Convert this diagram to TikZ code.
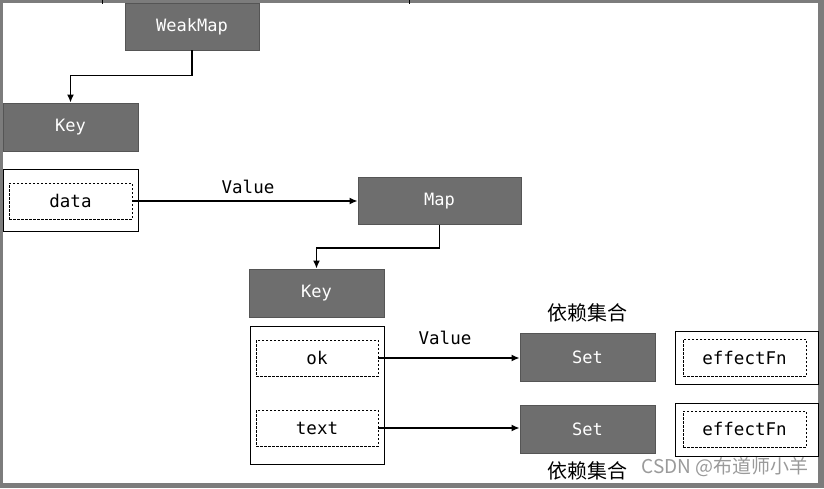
\documentclass[tikz,border=0pt]{standalone}
\usepackage{fontspec}
\setmainfont{Fira Sans}
\newfontfamily\monof{DejaVu Sans Mono}
\newfontfamily\cjk{Noto Sans CJK SC}
\usetikzlibrary{arrows.meta}
\definecolor{boxgray}{HTML}{6E6E6E}
\definecolor{edgegray}{HTML}{555555}
\definecolor{framegray}{HTML}{7C7C7C}
\definecolor{wmgray}{HTML}{9A9A9A}
\tikzset{
  darkbox/.style={draw=edgegray, fill=boxgray, text=white, line width=0.8pt,
    inner sep=0pt, font=\monof\fontsize{17}{19}\selectfont},
  outerbox/.style={draw=black, fill=white, line width=0.9pt, inner sep=0pt},
  dashbox/.style={draw=black, dashed, dash pattern=on 2.5pt off 1.5pt, line width=0.8pt,
    inner sep=0pt, font=\monof\fontsize{17.5}{19}\selectfont},
  conn/.style={draw=black, line width=1.6pt, -{Latex[length=8pt,width=7pt]}},
  vlabel/.style={font=\monof\fontsize{17.5}{19}\selectfont, inner sep=0pt},
  cjklabel/.style={font=\cjk\fontsize{20}{22}\selectfont, inner sep=0pt},
}
\begin{document}
\begin{tikzpicture}[x=1pt,y=-1pt]
% frame
\fill[framegray] (0,0) rectangle (824,488);
\fill[white] (3,3) rectangle (818,483);
\useasboundingbox (0,0) rectangle (824,488);
\coordinate (t1a) at (102,0); \coordinate (t1b) at (102,4);
\coordinate (t2a) at (409,0); \coordinate (t2b) at (409,4);
\draw[line width=0.8pt] (t1a) -- (t1b);
\draw[line width=0.8pt] (t2a) -- (t2b);

% top level
\node[darkbox, minimum width=134pt, minimum height=47pt] (wm) at (192,26.5) {WeakMap};
\node[darkbox, minimum width=135pt, minimum height=48pt] (k1) at (70.5,127) {Key};
\node[outerbox, minimum width=135pt, minimum height=62pt] (dout) at (70.5,200) {};
\node[dashbox, minimum width=123pt, minimum height=36pt] (din) at (70.5,201) {data};
\node[darkbox, minimum width=163pt, minimum height=47pt] (map) at (439.5,201) {Map};

% second level
\node[darkbox, minimum width=135pt, minimum height=48pt] (k2) at (316.5,293) {Key};
\node[outerbox, minimum width=134pt, minimum height=138pt] (kout) at (317,395) {};
\node[dashbox, minimum width=122pt, minimum height=36pt] (ok) at (317,358) {ok};
\node[dashbox, minimum width=122pt, minimum height=36pt] (tx) at (317,428) {text};

\node[darkbox, minimum width=135pt, minimum height=48pt] (s1) at (587.5,357) {Set};
\node[darkbox, minimum width=135pt, minimum height=48pt] (s2) at (587.5,429) {Set};

\node[outerbox, minimum width=143pt, minimum height=53pt] (e1out) at (746.5,357.5) {};
\node[dashbox, minimum width=123pt, minimum height=37pt] (e1) at (744.5,357.5) {effectFn};
\node[outerbox, minimum width=143pt, minimum height=53pt] (e2out) at (746.5,429.5) {};
\node[dashbox, minimum width=123pt, minimum height=36pt] (e2) at (744.5,429) {effectFn};

% labels
\node[vlabel] (v1) at (248,187) {Value};
\node[vlabel] (v2) at (445,338) {Value};
\node[cjklabel] (c1) at (587,313) {依赖集合};
\node[cjklabel] (c2) at (587,471) {依赖集合};
\node[font=\cjk\fontsize{19}{21}\selectfont, text=wmgray, inner sep=0pt, anchor=east] (wmk) at (809,467) {CSDN @布道师小羊};

% connectors
\draw[conn] (wm.south) -- ++(0,25) -| (k1.north);
\draw[conn] (din.east) -- (din.east -| map.west);
\draw[conn] (map.south) -- ++(0,23) -| (k2.north);
\draw[conn] (ok.east) -- (ok.east -| s1.west);
\draw[conn] (tx.east) -- (tx.east -| s2.west);
\end{tikzpicture}
\end{document}
